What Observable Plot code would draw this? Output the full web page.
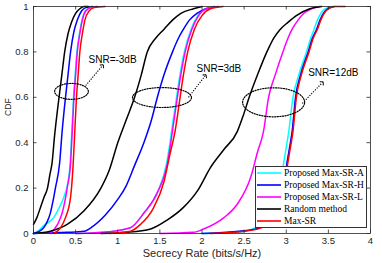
<!DOCTYPE html>
<html><head><meta charset="utf-8">
<script src="https://cdn.jsdelivr.net/npm/d3@7"></script>
<script src="https://cdn.jsdelivr.net/npm/@observablehq/plot@0.6"></script>
<style>
body{margin:0;background:#fff;}
#wrap{position:relative;width:382px;height:263px;}
#legend{position:absolute;left:255px;top:166px;width:112px;height:62px;background:#fff;border:0.8px solid #333;box-sizing:border-box;font-family:"Liberation Serif","Times New Roman",serif;font-size:9.5px;color:#000;}
.row{display:flex;align-items:center;height:12px;white-space:nowrap;}
.row svg{margin-left:1px;margin-right:3px;flex:none}
</style></head><body><div id="wrap"></div>
<script>
const methods = ["Proposed Max-SR-A","Proposed Max-SR-H","Proposed Max-SR-L","Random method","Max-SR"];
const colors = ["#00FFFF","#0000FF","#FF00FF","#000000","#FF0000"];
const snrs = ["-3dB","3dB","12dB"];
const xTicks = [0,0.5,1,1.5,2,2.5,3,3.5,4];
const yTicks = [0,0.2,0.4,0.6,0.8,1];

// [secrecy rate, CDF]
const A_m3 = [[0,0],[0.05,0.01],[0.12,0.035],[0.24,0.07],[0.3,0.11],[0.36,0.16],[0.4,0.21],[0.435,0.31],[0.455,0.45],[0.475,0.6],[0.495,0.7],[0.515,0.8],[0.545,0.88],[0.575,0.94],[0.615,0.98],[0.675,0.995],[0.75,1]];
const H_m3 = [[0,0],[0.06,0.008],[0.12,0.025],[0.16,0.05],[0.2,0.09],[0.23,0.14],[0.26,0.2],[0.31,0.31],[0.34,0.45],[0.38,0.6],[0.41,0.7],[0.44,0.8],[0.48,0.89],[0.52,0.94],[0.57,0.98],[0.62,0.995],[0.7,1]];
const L_m3 = [[0.2,0],[0.285,0.04],[0.34,0.09],[0.4,0.2],[0.44,0.31],[0.46,0.45],[0.48,0.6],[0.5,0.7],[0.52,0.8],[0.55,0.88],[0.58,0.94],[0.62,0.98],[0.68,0.995],[0.76,1]];
const R_m3 = [[0,0.04],[0.04,0.07],[0.083,0.115],[0.125,0.16],[0.166,0.2],[0.195,0.26],[0.22,0.31],[0.25,0.43],[0.28,0.53],[0.31,0.62],[0.34,0.71],[0.37,0.8],[0.41,0.88],[0.45,0.93],[0.5,0.97],[0.55,0.99],[0.6,1],[0.65,1]];
const M_m3 = [[0.24,0],[0.32,0.025],[0.38,0.07],[0.44,0.16],[0.47,0.3],[0.49,0.45],[0.51,0.6],[0.53,0.7],[0.55,0.8],[0.58,0.88],[0.61,0.94],[0.66,0.98],[0.72,0.995],[0.85,1]];

const A_3 = [[0.5,0],[0.9,0.008],[1.15,0.025],[1.31,0.09],[1.47,0.18],[1.58,0.31],[1.62,0.4],[1.65,0.48],[1.69,0.58],[1.73,0.68],[1.79,0.8],[1.87,0.9],[1.95,0.96],[2.04,0.99],[2.18,1]];
const H_3 = [[0,0],[0.4,0.005],[0.6,0.01],[0.7,0.03],[0.85,0.08],[1.0,0.15],[1.1,0.21],[1.2,0.3],[1.31,0.4],[1.4,0.5],[1.47,0.6],[1.55,0.7],[1.65,0.8],[1.72,0.86],[1.78,0.9],[1.85,0.94],[1.94,0.97],[2.05,0.99],[2.15,1]];
const L_3 = [[0.5,0],[0.9,0.008],[1.15,0.025],[1.31,0.09],[1.47,0.18],[1.59,0.31],[1.63,0.4],[1.66,0.48],[1.7,0.58],[1.74,0.68],[1.8,0.8],[1.88,0.9],[1.96,0.96],[2.05,0.99],[2.2,1]];
const R_3 = [[0,0],[0.2,0.01],[0.4,0.04],[0.6,0.1],[0.8,0.2],[0.9,0.28],[1.0,0.4],[1.1,0.5],[1.2,0.6],[1.28,0.7],[1.35,0.8],[1.45,0.86],[1.55,0.9],[1.65,0.94],[1.75,0.97],[1.9,0.99],[2.0,1]];
const M_3 = [[0.9,0],[1.15,0.01],[1.27,0.04],[1.42,0.11],[1.55,0.23],[1.62,0.35],[1.68,0.45],[1.74,0.6],[1.78,0.7],[1.83,0.8],[1.91,0.9],[2.0,0.96],[2.1,0.99],[2.25,1]];

const A_12 = [[2.0,0],[2.4,0.005],[2.6,0.02],[2.75,0.05],[2.85,0.1],[2.92,0.2],[2.96,0.29],[3.0,0.38],[3.03,0.45],[3.08,0.6],[3.15,0.7],[3.24,0.8],[3.29,0.86],[3.33,0.9],[3.37,0.94],[3.41,0.97],[3.46,0.99],[3.55,1]];
const H_12 = [[2.0,0],[2.5,0.012],[2.7,0.027],[2.84,0.06],[2.92,0.12],[2.97,0.2],[3.0,0.29],[3.04,0.38],[3.07,0.45],[3.11,0.6],[3.17,0.7],[3.26,0.8],[3.31,0.86],[3.36,0.9],[3.4,0.94],[3.44,0.97],[3.49,0.99],[3.57,1]];
const L_12 = [[1.5,0],[1.9,0.005],[2.02,0.02],[2.26,0.07],[2.42,0.13],[2.58,0.25],[2.66,0.36],[2.73,0.45],[2.79,0.6],[2.87,0.7],[2.96,0.8],[3.02,0.86],[3.07,0.9],[3.14,0.94],[3.21,0.97],[3.3,0.99],[3.4,1]];
const R_12 = [[0.8,0],[1.1,0.005],[1.39,0.02],[1.59,0.06],[1.78,0.115],[1.95,0.19],[2.1,0.29],[2.26,0.37],[2.42,0.45],[2.49,0.52],[2.56,0.6],[2.66,0.7],[2.77,0.8],[2.85,0.86],[2.93,0.9],[3.02,0.93],[3.12,0.96],[3.28,0.99],[3.42,1]];
const M_12 = [[2.1,0],[2.5,0.01],[2.7,0.025],[2.85,0.06],[2.93,0.12],[2.98,0.2],[3.01,0.29],[3.05,0.38],[3.08,0.45],[3.12,0.6],[3.18,0.7],[3.27,0.8],[3.32,0.86],[3.37,0.9],[3.41,0.94],[3.45,0.97],[3.5,0.99],[3.58,1],[3.7,1]];

const curves = [
  [0,0,A_m3],[0,1,A_3],[0,2,A_12],
  [1,0,H_m3],[1,1,H_3],[1,2,H_12],
  [2,0,L_m3],[2,1,L_3],[2,2,L_12],
  [3,0,R_m3],[3,1,R_3],[3,2,R_12],
  [4,0,M_m3],[4,1,M_3],[4,2,M_12]
];

// annotations (data units)
const annLabels = ["SNR=-3dB","SNR=3dB","SNR=12dB"];
const annCx = [0.451,1.525,2.85];
const annCy = [0.626,0.599,0.578];
const annRx = [0.2,0.35,0.368];
const annRy = [0.035,0.044,0.064];
const annTextX = [0.653,1.935,3.26];
const annTextY = [0.767,0.727,0.709];
const arrowX1 = [0.62,1.84,3.19];
const arrowY1 = [0.652,0.6,0.573];
const arrowX2 = [0.82,2.04,3.43];
const arrowY2 = [0.74,0.696,0.665];

const lineData = [];
curves.forEach(([m,s,pts]) => {
  pts.forEach(([x,y]) => lineData.push({x, y, key: methods[m]+"|"+snrs[s], color: colors[m]}));
});

const ellData = [];
annLabels.forEach((lab,i) => {
  for (let k = 0; k < 72; k++) {
    const t = 2*Math.PI*k/72;
    ellData.push({k: lab, x: annCx[i] + annRx[i]*Math.cos(t), y: annCy[i] + annRy[i]*Math.sin(t)});
  }
});
const annData = annLabels.map((lab,i) => ({lab, tx: annTextX[i], ty: annTextY[i], x1: arrowX1[i], y1: arrowY1[i], x2: arrowX2[i], y2: arrowY2[i]}));

const W = 382, H = 263, mL = 33, mR = 12, mT = 6, mB = 30;
const iw = W - mL - mR, ih = H - mT - mB, tk = 3.5;
const frameColor = "#262626";

const chart = Plot.plot({
  width: W, height: H,
  marginLeft: mL, marginRight: mR, marginTop: mT, marginBottom: mB,
  style: {fontFamily: "'Liberation Sans', Arial, sans-serif", fontSize: "9.5px", color: frameColor, background: "#fff"},
  x: {domain: [0,4], label: null},
  y: {domain: [0,1], label: null},
  color: {type: "identity"},
  marks: [
    Plot.line(lineData, {x: "x", y: "y", z: "key", stroke: "color", strokeWidth: 1.5, curve: "monotone-x"}),
    Plot.line(ellData, {x: "x", y: "y", z: "k", curve: "linear-closed", stroke: "#000", strokeWidth: 1.2, strokeDasharray: "1.2,1.4"}),
    Plot.link(annData, {x1: "x1", y1: "y1", x2: "x2", y2: "y2", stroke: "#000", strokeWidth: 1.1, strokeDasharray: "1.2,1.4", markerEnd: "arrow"}),
    Plot.text(annData, {x: "tx", y: "ty", text: "lab", textAnchor: "start", lineAnchor: "middle", fontSize: 10, fill: "#000"}),
    Plot.frame({stroke: frameColor, strokeWidth: 0.8}),
    Plot.tickX(xTicks, {x: d => d, insetTop: ih - tk, stroke: frameColor, strokeWidth: 0.8}),
    Plot.tickX(xTicks, {x: d => d, insetBottom: ih - tk, stroke: frameColor, strokeWidth: 0.8}),
    Plot.tickY(yTicks, {y: d => d, insetRight: iw - tk, stroke: frameColor, strokeWidth: 0.8}),
    Plot.tickY(yTicks, {y: d => d, insetLeft: iw - tk, stroke: frameColor, strokeWidth: 0.8}),
    Plot.axisX({ticks: xTicks, tickSize: 0, tickPadding: 3.5, tickFormat: d => String(d), label: null}),
    Plot.axisY({ticks: yTicks, tickSize: 0, tickPadding: 5, tickFormat: d => String(d), label: null}),
    Plot.text(["Secrecy Rate (bits/s/Hz)"], {text: d => d, frameAnchor: "bottom", dy: 20, lineAnchor: "middle", fontSize: 11, fill: frameColor}),
    Plot.text(["CDF"], {text: d => d, frameAnchor: "left", dx: -25, dy: -4, rotate: -90, lineAnchor: "middle", fontSize: 8.6, fill: frameColor})
  ]
});

const wrap = document.getElementById("wrap");
wrap.appendChild(chart);
const legend = document.createElement("div");
legend.id = "legend";
methods.forEach((m,i) => {
  const row = document.createElement("div");
  row.className = "row";
  row.innerHTML = `<svg width="24" height="4"><line x1="0" y1="2" x2="24" y2="2" stroke="${colors[i]}" stroke-width="1.6"/></svg><span>${m}</span>`;
  legend.appendChild(row);
});
wrap.appendChild(legend);
</script></body></html>
